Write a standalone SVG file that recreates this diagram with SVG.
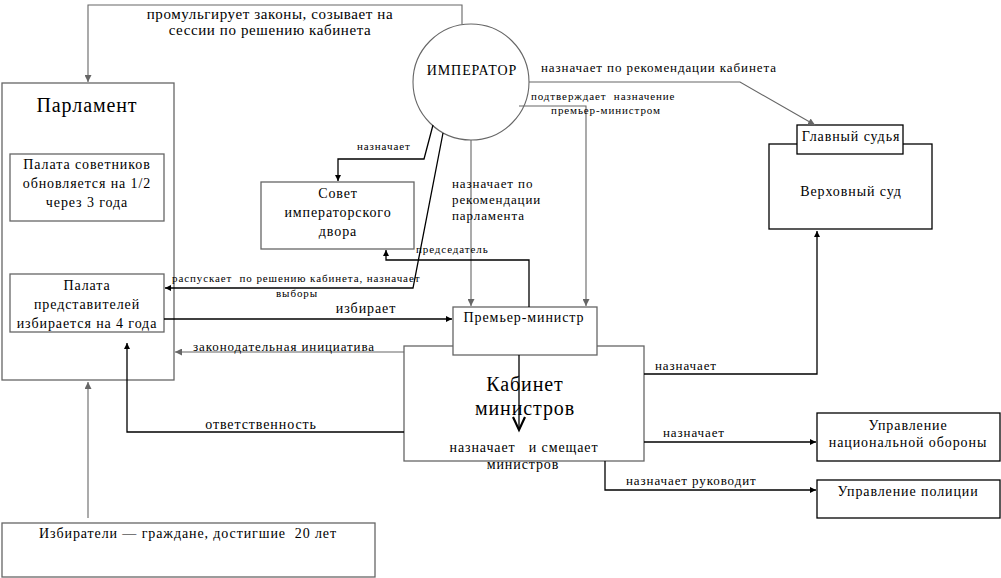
<svg xmlns="http://www.w3.org/2000/svg" width="1001" height="578" viewBox="0 0 1001 578">
<style>
text{font-family:"Liberation Serif","DejaVu Serif",serif;fill:#000;letter-spacing:0.9px;white-space:pre}
.b{fill:#fff;stroke:#000;stroke-width:1.3}
.g{fill:#fff;stroke:#666;stroke-width:1.3}
.c{fill:none;stroke:#000;stroke-width:1.3}
.cg{fill:none;stroke:#666;stroke-width:1.1}
.t14{font-size:14px}
.t13{font-size:13px}
.t11{font-size:11px}
.m{text-anchor:middle}
</style>
<defs>
<marker id="ab" viewBox="0 0 8 8" refX="8" refY="4" markerWidth="6" markerHeight="6" orient="auto" markerUnits="userSpaceOnUse"><path d="M0,0 L8,4 L0,8 z" fill="#000"/></marker>
<marker id="ag" viewBox="0 0 8 8" refX="8" refY="4" markerWidth="7" markerHeight="7" orient="auto" markerUnits="userSpaceOnUse"><path d="M0,0 L8,4 L0,8 z" fill="#666"/></marker>
</defs>

<g id="parliament">
<rect class="g" x="2" y="83" width="172" height="297"/>
<text x="87" y="112" class="m" font-size="20">Парламент</text>
</g>
<g id="councillors">
<rect class="g" x="10" y="154" width="154" height="67"/>
<text class="t14 m" x="87" y="169">Палата советников</text>
<text class="t14 m" x="87" y="188">обновляется на 1/2</text>
<text class="t14 m" x="87" y="207">через 3 года</text>
</g>
<g id="representatives">
<rect class="g" x="10" y="274" width="154" height="58"/>
<text class="t14 m" x="87" y="290">Палата</text>
<text class="t14 m" x="87" y="309">представителей</text>
<text class="t14 m" x="87" y="328">избирается на 4 года</text>
</g>
<g id="emperor">
<circle cx="471" cy="82" r="58" fill="#fff" stroke="#666" stroke-width="1.1"/>
<text class="t14 m" x="472" y="75">ИМПЕРАТОР</text>
</g>
<g id="council">
<rect class="g" x="261" y="182" width="153" height="67"/>
<text class="t14 m" x="338" y="198">Совет</text>
<text class="t14 m" x="338" y="217">императорского</text>
<text class="t14 m" x="338" y="236">двора</text>
</g>
<g id="supreme-court">
<rect class="b" x="769" y="144" width="163" height="85"/>
<text class="t14 m" x="851" y="196">Верховный суд</text>
</g>
<g id="chief-judge">
<rect class="b" x="797" y="125" width="106" height="29"/>
<text class="t14 m" x="851" y="141">Главный судья</text>
</g>
<g id="cabinet">
<rect class="g" x="404" y="346" width="240" height="115"/>
<text x="525" y="391" class="m" font-size="20">Кабинет</text>
<text x="525" y="415" class="m" font-size="20">министров</text>
<text class="t14 m" x="524" y="452">назначает   и смещает</text>
<text class="t14 m" x="523" y="469">министров</text>
</g>
<g id="premier">
<rect class="g" x="453" y="307" width="144" height="48"/>
<text class="t14 m" x="524" y="322">Премьер-министр</text>
</g>
<g id="defense">
<rect class="b" x="817" y="413" width="183" height="48"/>
<text class="t14 m" x="908" y="430">Управление</text>
<text class="t14 m" x="908" y="447">национальной обороны</text>
</g>
<g id="police">
<rect class="b" x="817" y="480" width="183" height="38"/>
<text class="t14 m" x="908" y="496">Управление полиции</text>
</g>
<g id="voters">
<rect class="g" x="2" y="523" width="373" height="54"/>
<text class="t14 m" x="188" y="538">Избиратели — граждане, достигшие  20 лет</text>
</g>

<g id="connectors">
<path class="cg" d="M462,24 V5 H88 V82" marker-end="url(#ag)"/>
<path class="cg" d="M529,82 H740 L815,125" marker-end="url(#ag)"/>
<path class="cg" d="M519,106 H586 V306" marker-end="url(#ag)"/>
<path class="cg" d="M471,140 V306" marker-end="url(#ag)"/>
<path class="c" d="M433,125 L424,159 H338 V181" marker-end="url(#ab)"/>
<path class="c" d="M443,133 L413,288 H165" marker-end="url(#ab)"/>
<path class="c" d="M529,307 V260 H386 V250" marker-end="url(#ab)"/>
<path class="c" d="M164,319 H452" marker-end="url(#ab)"/>
<path class="cg" d="M404,352 H175" marker-end="url(#ag)"/>
<path class="c" d="M404,432 H127 V343" marker-end="url(#ab)"/>
<path class="cg" d="M88,518 V382" marker-end="url(#ag)"/>
<path class="c" d="M644,374 H817 V231" marker-end="url(#ab)"/>
<path class="c" d="M644,442 H816" marker-end="url(#ab)"/>
<path class="c" d="M605,461 V490 H816" marker-end="url(#ab)"/>
<path class="c" d="M519,355 V430"/>
<path d="M513,417 L519,430 L525,417" fill="none" stroke="#000" stroke-width="2.2"/>
</g>

<g id="labels">
<text x="270" y="19" class="m" font-size="15" style="letter-spacing:0.6px">промульгирует законы, созывает на</text>
<text x="270" y="35" class="m" font-size="15" style="letter-spacing:0.6px">сессии по решению кабинета</text>
<text class="t13" x="541" y="72">назначает по рекомендации кабинета</text>
<text class="t11" x="531" y="100">подтверждает  назначение</text>
<text class="t11 m" x="606" y="114">премьер-министром</text>
<text class="t13" x="452" y="188">назначает по</text>
<text class="t13" x="452" y="204">рекомендации</text>
<text class="t13" x="452" y="220">парламента</text>
<text class="t11" x="357" y="150">назначает</text>
<text class="t11" x="172" y="282">распускает  по решению кабинета, назначает</text>
<text class="t11" x="276" y="297">выборы</text>
<text class="t11" x="416" y="253">председатель</text>
<text class="t14 m" x="366" y="313">избирает</text>
<text class="t13" x="193" y="351">законодательная инициатива</text>
<text class="t14 m" x="261" y="429">ответственность</text>
<text class="t13" x="655" y="370">назначает</text>
<text class="t13" x="663" y="437">назначает</text>
<text class="t13" x="626" y="485">назначает руководит</text>
</g>
</svg>
